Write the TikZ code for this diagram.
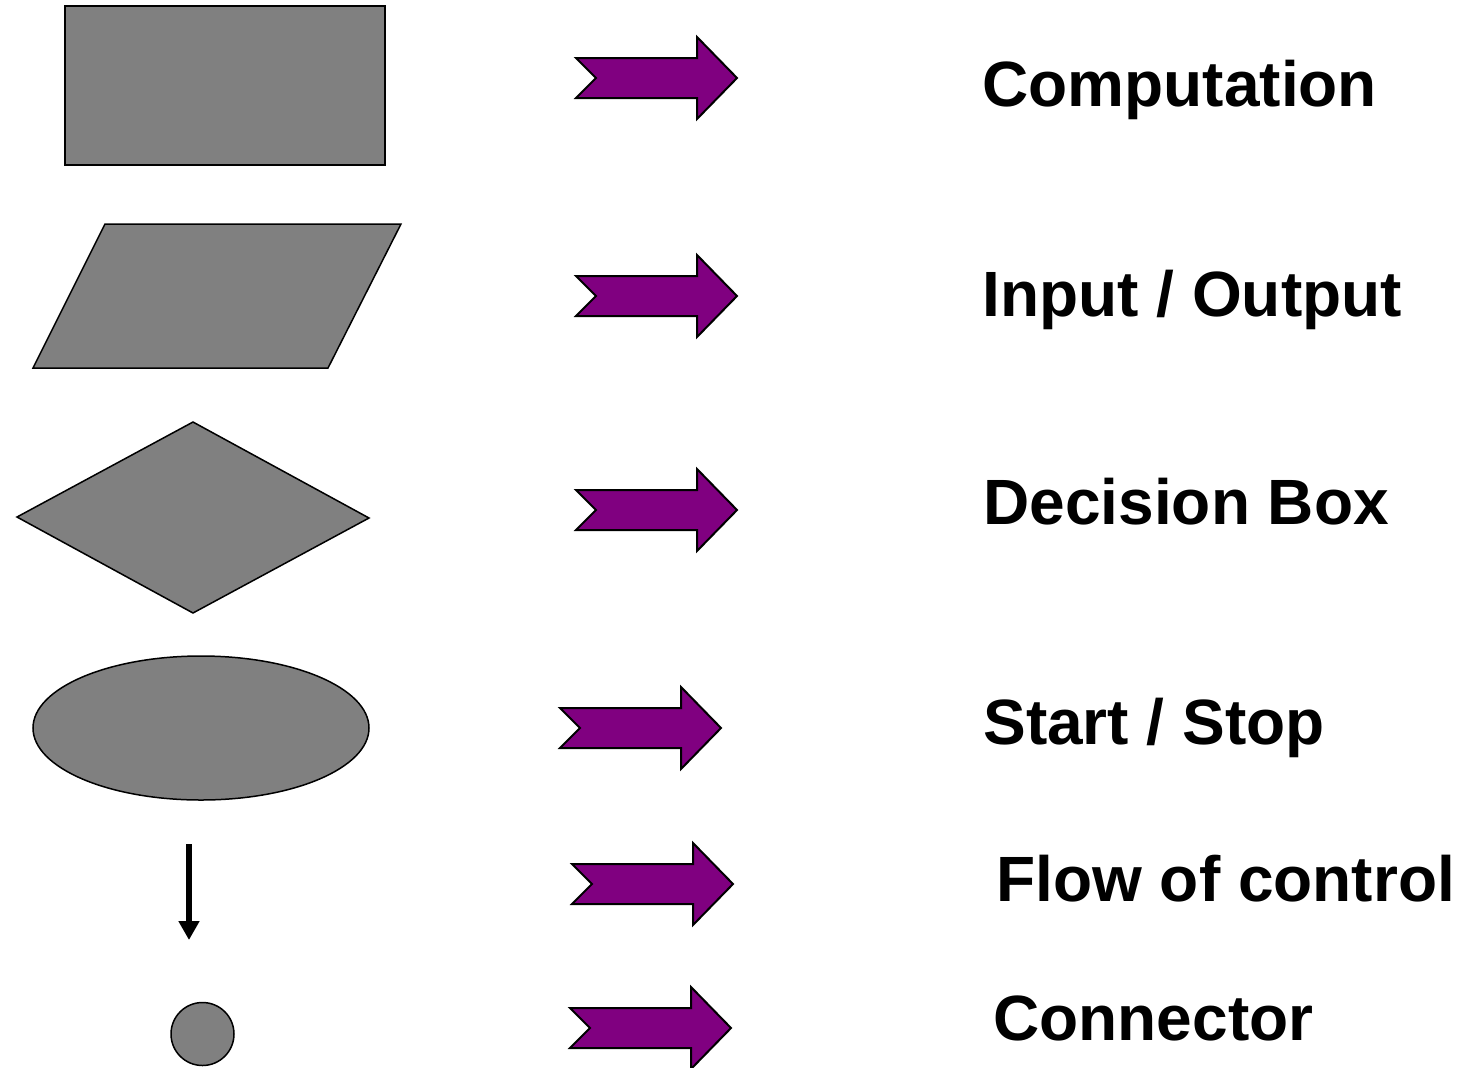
\documentclass[tikz,border=0pt]{standalone}
\usepackage{fontspec}
\setmainfont{Liberation Sans}
\usetikzlibrary{arrows.meta}
\definecolor{shapegray}{RGB}{128,128,128}
\definecolor{arrowpurple}{RGB}{128,0,128}
\tikzset{
  symbolshape/.style={draw=black, fill=shapegray, line width=0.75pt, line join=miter},
  parrowstyle/.style={draw=black, fill=arrowpurple, line width=1pt, line join=miter},
  parrow/.pic={\path[parrowstyle] (0,-20) -- (121,-20) -- (121,-41) -- (161,0) -- (121,41) -- (121,20) -- (0,20) -- (20,0) -- cycle;},
  label/.style={anchor=base west, inner sep=0pt, font=\fontsize{32}{38}\selectfont\bfseries}
}
\begin{document}
\begin{tikzpicture}[x=0.5pt, y=-0.5pt]
\useasboundingbox (0,0) rectangle (1457,1067);
% symbols
\path[symbolshape] (65,6) rectangle (385,165);
\path[symbolshape] (105,224) -- (401,224) -- (328,368) -- (33,368) -- cycle;
\path[symbolshape] (193,422) -- (369,518) -- (193,613) -- (17,517) -- cycle;
\path[symbolshape] (201,728) ellipse [x radius=168, y radius=72];
\coordinate (flowtop) at (189,844);
\coordinate (flowtip) at (189,940);
\draw[line width=3pt, -{Triangle[width=10pt,length=9.5pt]}] (flowtop) -- (flowtip);
\path[symbolshape] (202.5,1034) circle [radius=31.5];
% purple arrows
\pic at (576,78) {parrow};
\pic at (576,296) {parrow};
\pic at (576,510) {parrow};
\pic at (560,728) {parrow};
\pic at (572,884) {parrow};
\pic at (570,1028) {parrow};
% labels
\node[label] (comp) at (982,106) {Computation};
\node[label] (io) at (982,316) {Input / Output};
\node[label] (dec) at (983,524) {Decision Box};
\node[label] (ss) at (983,744) {Start / Stop};
\node[label] (flow) at (996,901) {Flow of control};
\node[label] (conn) at (993,1040) {Connector};
\end{tikzpicture}
\end{document}
